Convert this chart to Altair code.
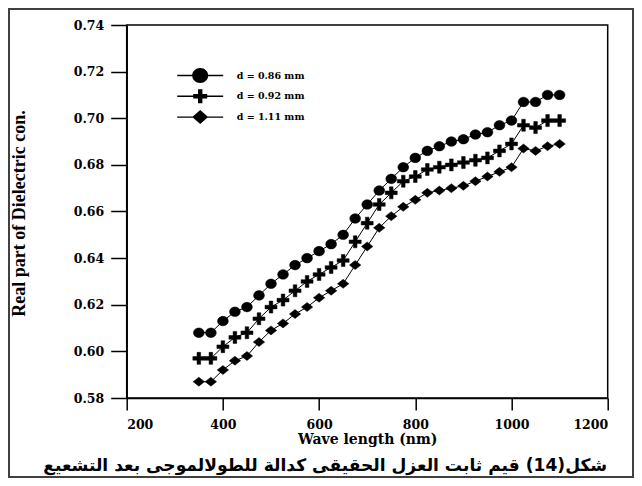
import altair as alt
import pandas as pd

# ---- data ----
wavelength = [350, 375, 400, 425, 450, 475, 500, 525, 550, 575, 600, 625, 650, 675, 700,
              725, 750, 775, 800, 825, 850, 875, 900, 925, 950, 975, 1000, 1025, 1050, 1075, 1100]
eps_086 = [0.608, 0.608, 0.613, 0.617, 0.619, 0.624, 0.629, 0.633, 0.637, 0.640, 0.643, 0.646,
           0.650, 0.657, 0.663, 0.669, 0.674, 0.679, 0.683, 0.686, 0.688, 0.690, 0.691, 0.693,
           0.694, 0.697, 0.699, 0.707, 0.707, 0.710, 0.710]
eps_092 = [0.597, 0.597, 0.602, 0.606, 0.608, 0.614, 0.619, 0.622, 0.626, 0.630, 0.633, 0.636,
           0.639, 0.647, 0.655, 0.663, 0.668, 0.673, 0.675, 0.678, 0.679, 0.680, 0.681, 0.682,
           0.683, 0.686, 0.689, 0.697, 0.696, 0.699, 0.699]
eps_111 = [0.587, 0.587, 0.592, 0.596, 0.598, 0.604, 0.609, 0.612, 0.616, 0.619, 0.623, 0.626,
           0.629, 0.637, 0.645, 0.653, 0.658, 0.662, 0.665, 0.668, 0.669, 0.670, 0.671, 0.673,
           0.675, 0.677, 0.679, 0.687, 0.686, 0.688, 0.689]
series_labels = ["d = 0.86 mm", "d = 0.92 mm", "d = 1.11 mm"]
x_ticks = [200, 400, 600, 800, 1000, 1200]
y_ticks = [0.58, 0.60, 0.62, 0.64, 0.66, 0.68, 0.70, 0.72, 0.74]
x_title = "Wave length (nm)"
y_title = "Real part of Dielectric con."
caption = "شكل(14) قيم ثابت العزل الحقيقى كدالة للطولالموجى بعد التشعيع"

rows = []
for label, vals in zip(series_labels, [eps_086, eps_092, eps_111]):
    for w, v in zip(wavelength, vals):
        rows.append({"wavelength": w, "eps": v, "series": label})
df = pd.DataFrame(rows)

# marker shapes (custom paths)
data_shapes = [
    "M0.9,0A0.9,0.8,0,1,1,-0.9,0A0.9,0.8,0,1,1,0.9,0Z",
    "M-1,-0.3H-0.3V-1H0.3V-0.3H1V0.3H0.3V1H-0.3V0.3H-1Z",
    "M-0.95,0L0,-0.75L0.95,0L0,0.75Z",
]
seg = "M-2.3,-0.07H2.3V0.07H-2.3Z"
legend_shapes = [
    seg + "M0.8,0A0.8,0.75,0,1,1,-0.8,0A0.8,0.75,0,1,1,0.8,0Z",
    seg + "M-0.7,-0.22H-0.22V-0.7H0.22V-0.22H0.7V0.22H0.22V0.7H-0.22V0.22H-0.7Z",
    seg + "M-0.8,0L0,-0.7L0.8,0L0,0.7Z",
]

xenc = alt.X(
    "wavelength:Q",
    scale=alt.Scale(domain=[200, 1200], nice=False, zero=False),
    axis=alt.Axis(
        values=x_ticks, format="d", title=x_title, grid=False,
        tickSize=12, tickColor="black", tickWidth=1.5,
        domainColor="black", domainWidth=1.5,
        labelFont="DejaVu Serif", labelFontWeight="bold", labelFontSize=12.5,
        labelColor="black", labelPadding=8,
        titleFont="DejaVu Serif", titleFontWeight="bold", titleFontSize=14,
        titleColor="black", titleY=41, titleBaseline="middle",
    ),
)
yenc = alt.Y(
    "eps:Q",
    scale=alt.Scale(domain=[0.58, 0.74], nice=False, zero=False),
    axis=alt.Axis(
        values=y_ticks, format=".2f", title=y_title, grid=False,
        tickSize=16, tickColor="black", tickWidth=1.5,
        domainColor="black", domainWidth=1.5,
        labelFont="DejaVu Serif", labelFontWeight="bold", labelFontSize=12.5,
        labelColor="black", labelPadding=7,
        titleFont="Liberation Serif", titleFontWeight="bold", titleFontSize=18,
        titleColor="black", titleAngle=270, titleX=-107, titleY=188,
        titleAlign="center", titleBaseline="middle",
    ),
)

base = alt.Chart(df)

lines = base.mark_line(color="black", strokeWidth=1).encode(
    x=xenc, y=yenc, detail="series:N"
)

points = base.mark_point(filled=True, fill="black", stroke="black", strokeWidth=0.5,
                         opacity=1, size=144).encode(
    x=xenc, y=yenc,
    shape=alt.Shape("series:N",
                    scale=alt.Scale(domain=series_labels, range=data_shapes),
                    legend=None),
)

legend_layer = base.mark_point(filled=True, fill="black", stroke="black", strokeWidth=1,
                               opacity=1, size=400, clip=True).encode(
    x=alt.value(-3000), y=alt.value(-3000),
    shape=alt.Shape(
        "series:N",
        scale=alt.Scale(domain=series_labels, range=legend_shapes),
        legend=alt.Legend(
            title=None, orient="none", legendX=63, legendY=40,
            symbolSize=400, symbolFillColor="black", symbolStrokeColor="black",
            symbolStrokeWidth=1, symbolOpacity=1,
            labelFont="DejaVu Serif", labelFontWeight="bold", labelFontSize=9.5,
            labelColor="black", labelOffset=26, rowPadding=0.8,
        ),
    ),
)

frame = alt.Chart(pd.DataFrame({"k": [0]})).mark_rect(
    fill="transparent", stroke="#404040", strokeWidth=2
).encode(
    x=alt.value(-117.7), x2=alt.value(506.3), y=alt.value(-16), y2=alt.value(452)
)

caption_layer = alt.Chart(pd.DataFrame({"t": [caption]})).mark_text(
    font="DejaVu Sans", fontSize=17.1, fontWeight="bold", color="black",
    align="center", baseline="middle",
).encode(text="t:N", x=alt.value(198.5), y=alt.value(441))

chart = alt.layer(lines, points, legend_layer, frame, caption_layer).resolve_scale(
    shape="independent"
).properties(
    width=481, height=373,
    padding={"left": 118.7, "top": 17, "right": 26.3, "bottom": 80},
    autosize=alt.AutoSizeParams(type="none"),
    background="white",
).configure_view(stroke="black", strokeWidth=1.5)

chart.save("out.html", embed_options={"renderer": "svg", "actions": False})
